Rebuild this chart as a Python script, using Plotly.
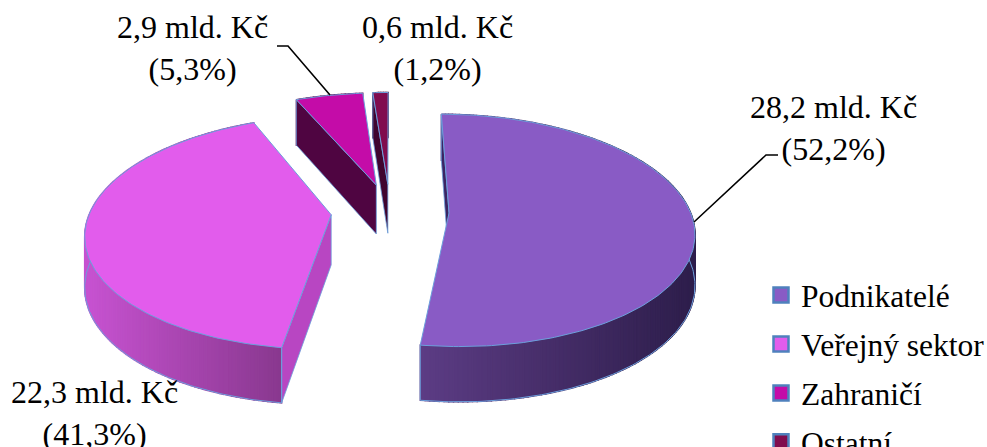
import math
import plotly.graph_objects as go

# Research funding by source
categories = ["Podnikatelé", "Veřejný sektor", "Zahraničí", "Ostatní"]
amounts = [28.2, 22.3, 2.9, 0.6]
shares = [52.2, 41.3, 5.3, 1.2]

top_colors = ["#895bc5", "#e25cec", "#c40ca8", "#800c4e"]
inner_wall_colors = ["#3c2562", "#b846c2", "#4f0541", "#40052f"]
outer_wall_left = [(92, 60, 132), (198, 82, 208), (100, 10, 85), (70, 8, 50)]
outer_wall_right = [(46, 30, 76), (136, 56, 142), (80, 6, 66), (60, 6, 40)]
shade_span = [(421, 690), (90, 283), (297, 365), (375, 389)]
edge_color = "#6c9fdc"

# Projection of the exploded tilted pie onto page pixels
CX, CY, RX, RY = 390, 211, 241, 113
PERSPECTIVE = 0.15
PULL = 0.245
DEPTH = 50


def scale(y):
    return 1 / (1 + PERSPECTIVE * y)


def project(x, y, lowered=False):
    s = scale(y)
    py = CY - y * RY * s
    if lowered:
        py += DEPTH * s ** 0.6
    return CX + x * RX * s, py


def polar(angle):
    return math.sin(angle), math.cos(angle)


def poly(points, fill, line=None, width=1.0):
    xs = [p[0] for p in points] + [points[0][0]]
    ys = [p[1] for p in points] + [points[0][1]]
    return go.Scatter(
        x=xs, y=ys, mode="lines", fill="toself", fillcolor=fill,
        line=dict(color=line or fill, width=width),
        hoverinfo="skip", showlegend=False,
    )


def stroke(points, color=edge_color, width=1.0):
    return go.Scatter(
        x=[p[0] for p in points], y=[p[1] for p in points], mode="lines",
        line=dict(color=color, width=width), hoverinfo="skip", showlegend=False,
    )


def blend(a, b, t):
    t = min(max(t, 0), 1)
    return "rgb(%d,%d,%d)" % tuple(round(a[i] + (b[i] - a[i]) * t) for i in range(3))


fig = go.Figure()

total = sum(shares)
starts, acc = [], 0.0
for share in shares:
    starts.append(acc)
    acc += share / total * 2 * math.pi

# Slices are stacked back to front so nearer faces hide what lies behind them
for i in [2, 3, 1, 0]:
    a0 = starts[i]
    a1 = a0 + shares[i] / total * 2 * math.pi
    mx, my = polar((a0 + a1) / 2)
    ox, oy = PULL * mx, PULL * my

    n = max(6, int((a1 - a0) * 60))
    rim = []
    for k in range(n + 1):
        sx, sy = polar(a0 + (a1 - a0) * k / n)
        rim.append((ox + sx, oy + sy))

    apex_top = project(ox, oy)
    apex_low = project(ox, oy, True)

    # Curved outer wall, shaded strip by strip
    left, right = shade_span[i]
    for k in range(n):
        p, q = rim[k], rim[k + 1]
        pt, qt = project(*p), project(*q)
        t = ((pt[0] + qt[0]) / 2 - left) / (right - left)
        col = blend(outer_wall_left[i], outer_wall_right[i], t)
        fig.add_trace(poly([pt, qt, project(*q, True), project(*p, True)], col, col, 1.4))
    fig.add_trace(stroke([project(*p, True) for p in rim]))

    # Flat wall along the cut edge that faces the viewer
    fig.add_trace(poly(
        [apex_top, project(*rim[0]), project(*rim[0], True), apex_low],
        inner_wall_colors[i], edge_color, 0.8,
    ))

    # Vertical seam at the front corner of the two large slices
    if i in (0, 1):
        corner = rim[-1] if i == 0 else rim[0]
        fig.add_trace(stroke([project(*corner), project(*corner, True)]))

    # Top face
    top = [apex_top] + [project(*p) for p in rim]
    fig.add_trace(poly(top, top_colors[i], edge_color, 1.0))

# Legend swatches
for name, color in zip(categories, top_colors):
    fig.add_trace(go.Scatter(
        x=[None], y=[None], mode="markers", name=name, legendgroup=name,
        marker=dict(symbol="square", size=15, color=color,
                    line=dict(color="#4f81bd", width=2.5)),
    ))


def cz(number):
    return f"{number:.1f}".replace(".", ",")


label_spots = [(833, 128), (94, 413), (192, 48), (437, 48)]
annotations = [
    dict(x=x, y=y, xref="x", yref="y", text=f"{cz(v)} mld. Kč<br>({cz(s)}%)",
         showarrow=False, xanchor="center", yanchor="middle", align="center",
         font=dict(family="Liberation Serif", size=32, color="#000000"))
    for (x, y), v, s in zip(label_spots, amounts, shares)
]

leaders = [
    "M 778 155 L 766 155 L 694 222",
    "M 277 46 L 288 46 L 330 95",
]
shapes = [
    dict(type="path", path=p, xref="x", yref="y", line=dict(color="#000000", width=1.6))
    for p in leaders
]

fig.update_layout(
    width=987, height=447,
    margin=dict(l=0, r=0, t=0, b=0, autoexpand=False),
    paper_bgcolor="#ffffff", plot_bgcolor="#ffffff",
    xaxis=dict(range=[0, 987], visible=False, fixedrange=True),
    yaxis=dict(range=[447, 0], visible=False, fixedrange=True),
    annotations=annotations, shapes=shapes,
    legend=dict(
        x=761 / 987, xanchor="left", y=1 - 268 / 447, yanchor="top",
        tracegroupgap=5, font=dict(family="Liberation Serif", size=31.5, color="#000000"),
        bgcolor="rgba(0,0,0,0)", itemclick=False, itemdoubleclick=False,
    ),
    showlegend=True,
)

fig.write_html("out.html")
